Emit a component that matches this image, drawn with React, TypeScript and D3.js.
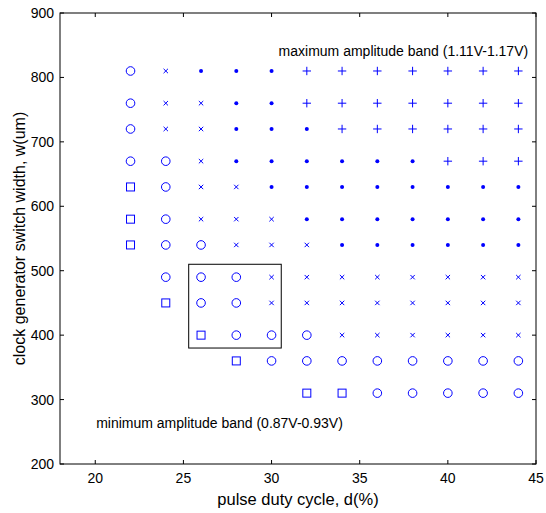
import React from "react";
import * as d3 from "d3";

const dutyCycles = [22, 24, 26, 28, 30, 32, 34, 36, 38, 40, 42, 44];
const widths = [810, 760, 720, 670, 630, 580, 540, 490, 450, 400, 360, 310];
// marker codes per row (top to bottom), per column: O circle, x cross, d dot, + plus, s square, . none
const markerRows = [
  ["O", "x", "d", "d", "d", "+", "+", "+", "+", "+", "+", "+"],
  ["O", "x", "x", "d", "d", "+", "+", "+", "+", "+", "+", "+"],
  ["O", "x", "x", "d", "d", "d", "+", "+", "+", "+", "+", "+"],
  ["O", "O", "x", "d", "d", "d", "d", "d", "d", "+", "+", "+"],
  ["s", "O", "x", "x", "d", "d", "d", "d", "d", "d", "d", "d"],
  ["s", "O", "x", "x", "x", "d", "d", "d", "d", "d", "d", "d"],
  ["s", "O", "O", "x", "x", "x", "d", "d", "d", "d", "d", "d"],
  [".", "O", "O", "O", "x", "x", "x", "x", "x", "x", "x", "x"],
  [".", "s", "O", "O", "x", "x", "x", "x", "x", "x", "x", "x"],
  [".", ".", "s", "O", "O", "O", "x", "x", "x", "x", "x", "x"],
  [".", ".", ".", "s", "O", "O", "O", "O", "O", "O", "O", "O"],
  [".", ".", ".", ".", ".", "s", "s", "O", "O", "O", "O", "O"],
];
const xTicks = [20, 25, 30, 35, 40, 45];
const yTicks = [200, 300, 400, 500, 600, 700, 800, 900];
const xDomain = [18, 45];
const yDomain = [200, 900];
const boxRegion = { x0: 25.3, x1: 30.55, y0: 380, y1: 510 };
const annotations = [
  { text: "maximum amplitude band (1.11V-1.17V)", x: 30.4, y: 841 },
  { text: "minimum amplitude band (0.87V-0.93V)", x: 20.05, y: 264 },
];

const W = 546;
const H = 513;
const m = { left: 60, right: 10, top: 13, bottom: 49 };
const BLUE = "#0000ff";
const FONT = "'Liberation Sans', Arial, Helvetica, sans-serif";

function Marker({ code, cx, cy }: { code: string; cx: number; cy: number }) {
  switch (code) {
    case "O":
      return <circle cx={cx} cy={cy} r={4.3} fill="none" stroke={BLUE} strokeWidth={1} />;
    case "s":
      return <rect x={cx - 4} y={cy - 4} width={8} height={8} fill="none" stroke={BLUE} strokeWidth={1} />;
    case "x":
      return (
        <path
          d={`M${cx - 2.2},${cy - 2.2}L${cx + 2.2},${cy + 2.2}M${cx - 2.2},${cy + 2.2}L${cx + 2.2},${cy - 2.2}`}
          stroke={BLUE}
          strokeWidth={1}
        />
      );
    case "d":
      return <circle cx={cx} cy={cy} r={2} fill={BLUE} />;
    case "+":
      return (
        <path
          d={`M${cx - 4.2},${cy}L${cx + 4.2},${cy}M${cx},${cy - 4.2}L${cx},${cy + 4.2}`}
          stroke={BLUE}
          strokeWidth={1}
        />
      );
    default:
      return null;
  }
}

export default function App() {
  const x = d3.scaleLinear().domain(xDomain).range([m.left, W - m.right - 0]);
  const y = d3.scaleLinear().domain(yDomain).range([H - m.bottom, m.top]);
  const x0 = m.left, x1 = W - m.right, y0 = m.top, y1 = H - m.bottom;
  const tl = 4;

  const markers: React.ReactNode[] = [];
  markerRows.forEach((row, ri) => {
    row.forEach((code, ci) => {
      if (code === ".") return;
      markers.push(<Marker key={`${ri}-${ci}`} code={code} cx={x(dutyCycles[ci])} cy={y(widths[ri])} />);
    });
  });

  return (
    <svg width={W} height={H} style={{ position: "absolute", left: 0, top: 0, background: "#fff" }} fontFamily={FONT}>
      <rect x={0} y={0} width={W} height={H} fill="#fff" />
      <g stroke="#000" strokeWidth={1}>
        {xTicks.map((t) => (
          <g key={`xt${t}`}>
            <line x1={x(t)} x2={x(t)} y1={y1} y2={y1 - tl} />
            <line x1={x(t)} x2={x(t)} y1={y0} y2={y0 + tl} />
          </g>
        ))}
        {yTicks.map((t) => (
          <g key={`yt${t}`}>
            <line x1={x0} x2={x0 + tl} y1={y(t)} y2={y(t)} />
            <line x1={x1} x2={x1 - tl} y1={y(t)} y2={y(t)} />
          </g>
        ))}
      </g>
      <rect x={x0} y={y0} width={x1 - x0} height={y1 - y0} fill="none" stroke="#000" strokeWidth={1} />
      {xTicks.map((t) => (
        <text key={`xl${t}`} x={x(t)} y={y1 + 19} fontSize={14} textAnchor="middle" fill="#000">
          {t}
        </text>
      ))}
      {yTicks.map((t) => (
        <text key={`yl${t}`} x={x0 - 6} y={y(t) + 5} fontSize={14} textAnchor="end" fill="#000">
          {t}
        </text>
      ))}
      <text x={(x0 + x1) / 2} y={505} fontSize={16.5} textAnchor="middle" fill="#000">
        pulse duty cycle, d(%)
      </text>
      <text
        transform={`translate(25, ${(y0 + y1) / 2}) rotate(-90)`}
        fontSize={16}
        textAnchor="middle"
        fill="#000"
      >
        clock generator switch width, w(um)
      </text>
      {markers}
      <rect
        x={x(boxRegion.x0)}
        y={y(boxRegion.y1)}
        width={x(boxRegion.x1) - x(boxRegion.x0)}
        height={y(boxRegion.y0) - y(boxRegion.y1)}
        fill="none"
        stroke="#000"
        strokeWidth={1}
      />
      {annotations.map((a) => (
        <text key={a.text} x={x(a.x)} y={y(a.y) + 5} fontSize={14} fill="#000">
          {a.text}
        </text>
      ))}
    </svg>
  );
}
